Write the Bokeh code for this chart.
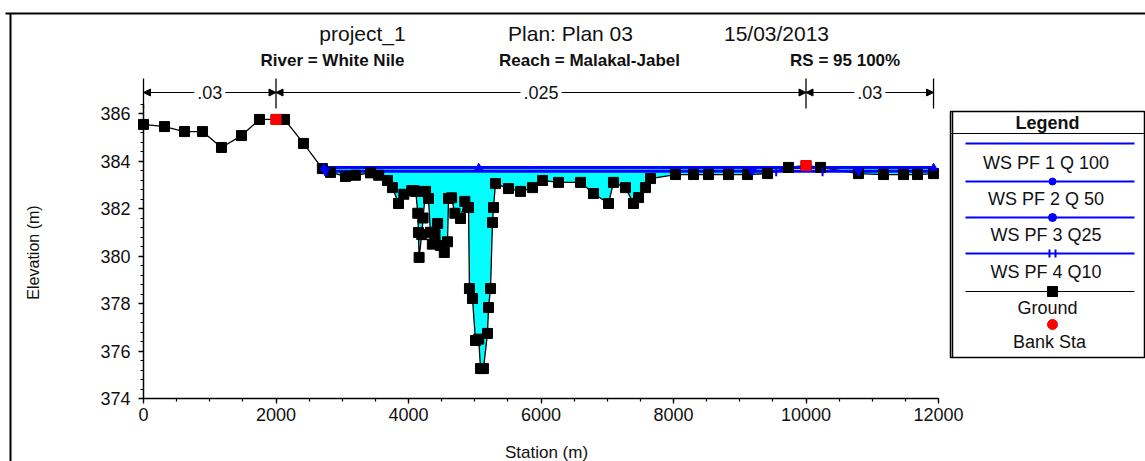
import numpy as np
from bokeh.plotting import figure
from bokeh.models import Range1d, SingleIntervalTicker, Label, Arrow, NormalHead
from bokeh.embed import file_html
from bokeh.resources import INLINE

# ---------------- data ----------------
title_parts = ["project_1", "Plan: Plan 03", "15/03/2013"]
subtitle_parts = ["River = White Nile", "Reach = Malakal-Jabel", "RS = 95  100%"]
x_label = "Station (m)"
y_label = "Elevation (m)"

ground_sta = [0, 317, 619, 890, 1177, 1479, 1751, 2000, 2128, 2415, 2700,
              2823, 3049, 3200, 3426, 3550, 3683, 3758, 3849, 3930, 4050,
              4080, 4110, 4140, 4150, 4160, 4200, 4220, 4257, 4302, 4330,
              4360, 4400, 4440, 4483, 4540, 4589, 4604, 4650, 4700, 4785,
              4850, 4906, 4920, 4966, 5011, 5060, 5087, 5132, 5192, 5208,
              5238, 5268, 5283, 5313, 5509, 5691, 5872, 6023, 6264, 6596,
              6792, 7019, 7094, 7275, 7396, 7472, 7577, 7653, 8030, 8302,
              8528, 8830, 9117, 9419, 9736, 10000, 10219, 10792, 11170, 11472,
              11683, 11925]
ground_elev = [385.54, 385.45, 385.24, 385.24, 384.57, 385.07, 385.75, 385.75, 385.75, 384.74, 383.68,
               383.52, 383.35, 383.40, 383.50, 383.40, 383.18, 382.88, 382.21, 382.60, 382.75,
               382.75, 382.72, 381.80, 380.99, 379.94, 380.90, 381.60, 382.72, 382.42, 381.00,
               380.50, 380.90, 381.37, 380.44, 380.15, 380.60, 382.42, 382.45, 381.80, 381.58,
               382.30, 382.04, 378.63, 378.21, 376.44, 376.50, 375.26, 375.26, 376.74, 377.83,
               378.63, 381.41, 382.04, 383.05, 382.84, 382.72, 382.88, 383.18, 383.10, 383.10,
               382.63, 382.21, 383.10, 382.88, 382.21, 382.46, 382.88, 383.26, 383.43, 383.43,
               383.43, 383.43, 383.43, 383.47, 383.73, 383.81, 383.73, 383.47, 383.43, 383.43,
               383.43, 383.47]

bank_sta = [2000, 10000]
bank_elev = [385.75, 383.81]

ws_names = ["WS PF 1  Q 100", "WS PF 2  Q 50", "WS PF 3  Q25", "WS PF 4  Q10"]
ws_elev = [383.75, 383.71, 383.59, 383.55]
ws_start = [2700, 2700, 2700, 2700]
ws_end = [11925, 11925, 11925, 11925]
ws_marker_sta = [[], [2720, 5060, 11925], [2740, 9190, 10790], [2760, 9550, 10250]]

n_values = [".03", ".025", ".03"]
n_breaks = [0, 2000, 10000, 11925]

x_ticks_interval = 2000
y_ticks_interval = 2

# ---------------- layout helpers (pixel -> data) ----------------
X0, PXM = 143.0, 0.06625      # pixel of station 0, pixels per metre
Y0, PYM = 398.0, 23.75        # pixel of elevation 374, pixels per metre
W, H = 1145, 461


def sx(px):
    return (px - X0) / PXM


def sy(py):
    return 374 + (Y0 - py) / PYM


FONT = "Liberation Sans"
BLUE = "#0000FF"
CYAN = "#00FFFF"
TXT = "#111111"

p = figure(width=W, height=H, output_backend="svg", toolbar_location=None, title=None,
           x_range=Range1d(sx(0), sx(W)), y_range=Range1d(sy(H), sy(0)),
           min_border_left=0, min_border_right=0, min_border_top=0, min_border_bottom=0)
p.outline_line_color = None
p.grid.visible = False
p.background_fill_color = "white"
p.border_fill_color = "white"

# axes (placed at station 0 / elevation 374)
p.xaxis.fixed_location = 374
p.yaxis.fixed_location = 0
p.xaxis.ticker = SingleIntervalTicker(interval=x_ticks_interval, num_minor_ticks=4)
p.yaxis.ticker = SingleIntervalTicker(interval=y_ticks_interval, num_minor_ticks=5)
p.xaxis.bounds = (0, 12000)
p.yaxis.bounds = (374, 386.4)
for ax in (p.xaxis[0], p.yaxis[0]):
    ax.axis_line_width = 1.5
    ax.axis_line_color = "black"
    ax.major_tick_line_color = "black"
    ax.minor_tick_line_color = "black"
    ax.major_tick_line_width = 1.3
    ax.minor_tick_line_width = 1.2
    ax.major_tick_in = 0
    ax.minor_tick_in = 0
    ax.major_tick_out = 5
    ax.minor_tick_out = 3
    ax.major_label_text_font = FONT
    ax.major_label_text_font_size = "18px"
    ax.major_label_text_color = TXT
p.xaxis.major_label_standoff = 4
p.yaxis.major_label_standoff = 8

gs = np.array(ground_sta, dtype=float)
ge = np.array(ground_elev, dtype=float)

# water fill (ground up to highest water surface)
mask = (gs >= ws_start[0]) & (gs <= ws_end[0])
p.varea(x=gs[mask], y1=np.minimum(ge[mask], ws_elev[0]), y2=ws_elev[0], fill_color=CYAN)

# ground line
p.line(ground_sta, ground_elev, line_color="black", line_width=1.3)

# water surfaces
for i in range(4):
    p.line([ws_start[i], ws_end[i]], [ws_elev[i], ws_elev[i]], line_color=BLUE, line_width=2)

# ground markers
p.scatter(ground_sta, ground_elev, marker="square", size=10, fill_color="black", line_color="black")
# bank stations
p.scatter(bank_sta, bank_elev, marker="square", size=10, fill_color="red", line_color="red")

# WS markers
ws_marker_kind = [None, "triangle", "inverted_triangle", "dash"]
ws_marker_size = [0, 8, 9, 9]
for i in range(1, 4):
    ms = ws_marker_sta[i]
    if ws_marker_kind[i] == "dash":
        p.scatter(ms, [ws_elev[i]] * len(ms), marker="dash", angle=np.pi / 2, size=ws_marker_size[i],
                  line_color=BLUE, line_width=2)
    else:
        p.scatter(ms, [ws_elev[i]] * len(ms), marker=ws_marker_kind[i], size=ws_marker_size[i],
                  fill_color=BLUE, line_color=BLUE)

# Manning's n annotation
n_top, n_bot, n_mid = sy(78), sy(108), sy(92)
p.segment(x0=n_breaks, y0=[n_bot] * len(n_breaks), x1=n_breaks, y1=[n_top] * len(n_breaks),
          line_color="black", line_width=1.3)
for k, nv in enumerate(n_values):
    a, b = n_breaks[k], n_breaks[k + 1]
    c = (a + b) / 2
    for end in (a, b):
        p.add_layout(Arrow(end=NormalHead(size=7, fill_color="black", line_color="black"),
                           x_start=c, y_start=n_mid, x_end=end, y_end=n_mid,
                           line_color="black", line_width=1.1))
    p.add_layout(Label(x=c, y=n_mid, text=nv, text_align="center", text_baseline="middle",
                       text_font=FONT, text_font_size="18px", text_color=TXT,
                       background_fill_color="white", padding=3))

# titles
title_px = [362, 570, 776]
for t, px in zip(title_parts, title_px):
    p.add_layout(Label(x=sx(px), y=sy(33), text=t, text_align="center", text_baseline="middle",
                       text_font=FONT, text_font_size="21px", text_color=TXT))
sub_px = [332, 589, 847]
for t, px in zip(subtitle_parts, sub_px):
    p.add_layout(Label(x=sx(px), y=sy(60), text=t, text_align="center", text_baseline="middle",
                       text_font=FONT, text_font_size="17px", text_font_style="bold", text_color=TXT))

# axis titles
p.add_layout(Label(x=sx(546), y=sy(452), text=x_label, text_align="center", text_baseline="middle",
                   text_font=FONT, text_font_size="17px", text_color=TXT))
p.add_layout(Label(x=sx(33), y=sy(252), text=y_label, text_align="center", text_baseline="middle",
                   angle=np.pi / 2, text_font=FONT, text_font_size="16px", text_color=TXT))

# page border (left and top edges)
p.line([sx(10), sx(10)], [sy(13), sy(H + 5)], line_color="black", line_width=2)
p.line([sx(5), sx(W + 5)], [sy(13), sy(13)], line_color="black", line_width=2)

# legend box
p.quad(left=sx(950), right=sx(1144), top=sy(111), bottom=sy(357), fill_color="white",
       line_color="black", line_width=1.5)
p.line([sx(952), sx(952)], [sy(111), sy(357)], line_color="black", line_width=1.5)
p.line([sx(950), sx(1144)], [sy(133), sy(133)], line_color="black", line_width=1.2)
p.add_layout(Label(x=sx(1047), y=sy(122), text="Legend", text_align="center", text_baseline="middle",
                   text_font=FONT, text_font_size="18px", text_font_style="bold", text_color=TXT))
lx0, lx1, lmid = sx(965), sx(1134), sx(1052)
leg_line_py = [143, 181, 217, 253]
leg_text_py = [162, 198, 234, 271]
for i in range(4):
    yy = sy(leg_line_py[i])
    p.line([lx0, lx1], [yy, yy], line_color=BLUE, line_width=1.8)
    if ws_marker_kind[i] == "dash":
        p.scatter([sx(1049), sx(1055)], [yy, yy], marker="dash", angle=np.pi / 2, size=8,
                  line_color=BLUE, line_width=2)
    elif ws_marker_kind[i]:
        p.scatter([lmid], [yy], marker="circle", size=ws_marker_size[i] - 1, fill_color=BLUE, line_color=BLUE)
    p.add_layout(Label(x=sx(1048), y=sy(leg_text_py[i]), text=ws_names[i], text_align="center",
                       text_baseline="middle", text_font=FONT, text_font_size="18px", text_color=TXT))
yy = sy(291)
p.line([lx0, lx1], [yy, yy], line_color="black", line_width=1.2)
p.scatter([lmid], [yy], marker="square", size=10, fill_color="black", line_color="black")
p.add_layout(Label(x=sx(1047), y=sy(307), text="Ground", text_align="center", text_baseline="middle",
                   text_font=FONT, text_font_size="18px", text_color=TXT))
p.scatter([lmid], [sy(324)], marker="circle", size=10, fill_color="red", line_color="red")
p.add_layout(Label(x=sx(1049), y=sy(341), text="Bank Sta", text_align="center", text_baseline="middle",
                   text_font=FONT, text_font_size="18px", text_color=TXT))

open("out.html", "w").write(file_html(p, INLINE))
